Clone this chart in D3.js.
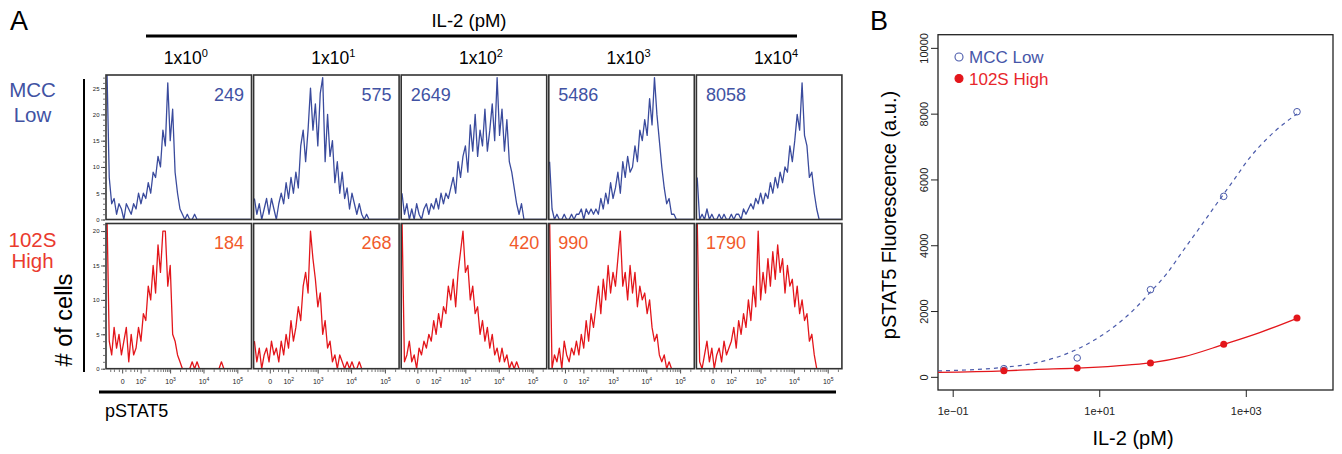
<!DOCTYPE html>
<html>
<head>
<meta charset="utf-8">
<script src="https://cdn.jsdelivr.net/npm/d3@7"></script>
<style>
  body { margin: 0; background: #fff; }
  svg { display: block; font-family: "Liberation Sans", Arial, Helvetica, sans-serif; }
</style>
</head>
<body>
<svg id="chart" width="1342" height="454"></svg>
<script>
// ---- data ----
const doseExp = [0, 1, 2, 3, 4];
const rowNames = [['MCC', 'Low'], ['102S', 'High']];
const il2pM = [0.5, 5, 50, 500, 5000];
const mfiMCC = [249, 575, 2649, 5486, 8058];
const mfi102S = [184, 268, 420, 990, 1790];

// histogram counts, 60 bins across the pSTAT5 channel range
const histMCC = [
  [30,8,3,4,1,3,2,0,3,2, 1,3,2,5,3,5,4,7,5,9, 8,12,10,17,14,26,15,21,9,5, 2,1,0,1,0,0,1,0,0,0, 0,0,0,0,0,0,0,0,0,0, 0,0,0,0,0,0,0,0,0,0],
  [4,1,3,0,2,4,1,4,2,0, 3,5,3,7,4,8,5,9,6,14, 17,11,17,25,17,22,14,24,27,11, 20,12,15,7,11,5,9,4,6,2, 5,3,1,3,1,0,1,0,0,0, 0,0,0,0,0,0,0,0,0,0],
  [5,1,3,0,2,0,3,1,0,2, 3,1,3,2,4,2,5,3,5,4, 6,8,5,11,8,12,14,9,18,13, 20,12,17,14,21,13,17,22,15,27, 16,21,13,19,11,9,6,3,1,3, 0,0,0,0,0,0,0,0,0,0],
  [11,2,0,1,0,0,1,0,0,1, 0,1,1,2,0,2,1,2,1,2, 1,4,2,5,3,7,4,6,9,5, 11,8,12,9,10,14,11,17,15,19, 16,23,18,27,20,15,10,6,3,4, 1,1,0,0,0,0,0,0,0,0],
  [8,0,1,0,2,0,1,0,0,1, 0,1,0,0,1,0,1,1,0,2, 1,2,3,2,4,3,5,3,5,4, 7,5,8,6,9,7,10,9,14,11, 15,20,17,26,16,14,8,9,5,2, 0,0,0,0,0,0,0,0,0,0]
];
const hist102S = [
  [24,4,2,6,3,5,2,4,6,1, 5,2,3,6,4,8,7,12,10,15, 11,18,14,20,20,12,15,5,4,2, 1,0,0,0,0,1,0,1,0,0, 0,0,0,0,0,0,0,1,0,0, 0,0,0,0,0,0,0,0,0,0],
  [4,1,3,0,2,3,1,4,2,3, 1,4,2,5,3,7,4,6,9,7, 12,14,11,20,16,13,9,11,5,7, 3,4,1,2,0,2,1,0,1,0, 1,0,0,1,0,0,0,0,0,0, 0,0,0,0,0,0,0,0,0,0],
  [22,1,2,4,1,2,0,3,2,4, 3,5,4,7,5,8,6,9,8,12, 10,13,9,14,17,20,14,15,10,12, 8,9,5,7,4,6,3,5,2,3, 1,3,1,2,0,1,0,1,0,0, 0,0,0,0,0,0,0,0,0,0],
  [22,0,2,1,3,0,4,2,1,3, 2,4,2,5,3,7,4,8,6,9, 12,8,13,10,15,11,14,12,16,20, 12,14,10,15,11,14,9,12,10,11, 8,10,6,4,5,2,1,2,0,1, 0,0,0,0,0,0,0,0,0,0],
  [22,1,0,2,4,1,3,0,2,3, 1,4,2,3,4,6,3,7,5,8, 6,10,7,12,9,20,10,14,11,16, 12,17,13,18,14,16,11,15,12,13, 9,12,8,10,7,8,4,5,2,0, 0,0,0,0,0,0,0,0,0,0]
];

// fitted dose-response curves
const fitMCCx = [0.063, 0.5, 1.26, 5, 10, 29, 50, 83, 140, 237, 398, 676, 1138, 1923, 3236, 5000];
const fitMCCy = [180, 290, 410, 840, 1210, 2020, 2580, 3130, 3840, 4545, 5254, 5960, 6667, 7224, 7679, 7990];
const fit102Sx = [0.063, 0.5, 1.26, 5, 17.3, 50, 140, 500, 1549, 5000];
const fit102Sy = [135, 180, 222, 265, 335, 425, 606, 985, 1345, 1780];

// ticks
const flowTicks = [0, 1e2, 1e3, 1e4, 1e5];
const flowTickExp = [null, 2, 3, 4, 5];
const topCountTicks = [0, 5, 10, 15, 20, 25];
const botCountTicks = [0, 5, 10, 15, 20];
const bYTicks = [0, 2000, 4000, 6000, 8000, 10000];
const bXTicks = [0.1, 10, 1000];
const bXTickLabels = ['1e\u221201', '1e+01', '1e+03'];

// ---- drawing ----
const svg = d3.select('#chart');
const blueLine = '#3a4b9d', redLine = '#e3161b';
const blueText = '#4152a3', redText = '#f15a2b', redLabel = '#ea3a2e';

const panelLeft = 106, panelStep = 147.6, panelW = 145.5;
const rows = [
  { y0: 75, y1: 219.5, max: 27.5, ticks: topCountTicks, hist: histMCC, mfi: mfiMCC,
    color: blueLine, textColor: blueText, anchors: ['end', 'end', 'start', 'start', 'start'] },
  { y0: 223.5, y1: 368.7, max: 21.1, ticks: botCountTicks, hist: hist102S, mfi: mfi102S,
    color: redLine, textColor: redText, anchors: ['end', 'end', 'end', 'start', 'start'] }
];

// panel letter A + header
svg.append('text').attr('x', 10).attr('y', 30).attr('font-size', 27).text('A');
svg.append('text').attr('x', 469).attr('y', 27).attr('font-size', 18.5)
  .attr('text-anchor', 'middle').text('IL-2 (pM)');
svg.append('line').attr('x1', 146).attr('x2', 797).attr('y1', 36).attr('y2', 36)
  .attr('stroke', '#000').attr('stroke-width', 3);

doseExp.forEach((e, c) => {
  const cx = panelLeft + c * panelStep + panelW / 2 + 7;
  const t = svg.append('text').attr('x', cx).attr('y', 64).attr('font-size', 17.5)
    .attr('text-anchor', 'middle');
  t.append('tspan').text('1x10');
  t.append('tspan').attr('font-size', 11).attr('dy', -7).text(e);
});

// row labels
rows.forEach((r, ri) => {
  const col = ri === 0 ? blueText : redLabel;
  const base = ri === 0 ? [97, 121.5] : [246.5, 268];
  rowNames[ri].forEach((s, k) => {
    svg.append('text').attr('x', 32.5).attr('y', base[k]).attr('font-size', 20.5)
      .attr('text-anchor', 'middle').attr('fill', col).text(s);
  });
});

svg.append('line').attr('x1', 84).attr('x2', 84).attr('y1', 79).attr('y2', 372)
  .attr('stroke', '#000').attr('stroke-width', 2);
svg.append('text').attr('transform', 'translate(72,320) rotate(-90)')
  .attr('font-size', 23.5).attr('text-anchor', 'middle').text('# of cells');

const defs = svg.append('defs');

rows.forEach((r, ri) => {
  const y = d3.scaleLinear().domain([0, r.max]).range([r.y1, r.y0]);

  // count axis on the first column
  const yMinor = d3.range(0, Math.floor(r.max) + 1);
  svg.append('g').attr('transform', `translate(${panelLeft - 1},0)`)
    .call(d3.axisLeft(y).tickValues(yMinor).tickSize(2).tickFormat(''))
    .call(g => g.select('.domain').remove())
    .call(g => g.selectAll('line').attr('stroke', '#222').attr('stroke-width', 0.6));
  svg.append('g').attr('transform', `translate(${panelLeft - 1},0)`)
    .call(d3.axisLeft(y).tickValues(r.ticks).tickSize(4).tickPadding(1.5))
    .call(g => g.select('.domain').remove())
    .call(g => g.selectAll('line').attr('stroke', '#222').attr('stroke-width', 0.7))
    .call(g => g.selectAll('text').attr('font-size', 6).attr('fill', '#222')
      .attr('font-family', '"Liberation Sans", Arial, sans-serif'));

  doseExp.forEach((e, c) => {
    const x0 = panelLeft + c * panelStep;
    const data = r.hist[c];
    const xb = d3.scaleLinear().domain([0, data.length - 1]).range([x0 + 0.8, x0 + panelW - 0.8]);
    const id = `clip-${ri}-${c}`;
    defs.append('clipPath').attr('id', id).append('rect')
      .attr('x', x0).attr('y', r.y0).attr('width', panelW).attr('height', r.y1 - r.y0);

    const line = d3.line().x((d, i) => xb(i)).y(d => y(d));
    svg.append('path').datum(data).attr('clip-path', `url(#${id})`)
      .attr('d', line).attr('fill', 'none').attr('stroke', r.color)
      .attr('stroke-width', 1.3).attr('stroke-linejoin', 'round');

    svg.append('rect').attr('x', x0).attr('y', r.y0).attr('width', panelW)
      .attr('height', r.y1 - r.y0).attr('fill', 'none')
      .attr('stroke', '#333').attr('stroke-width', 1.6);

    const anchor = r.anchors[c];
    svg.append('text')
      .attr('x', anchor === 'end' ? x0 + panelW - 7.5 : x0 + 9.5)
      .attr('y', r.y0 + 25.5).attr('font-size', 18).attr('fill', r.textColor)
      .attr('text-anchor', anchor).text(r.mfi[c]);

    if (ri === 1) {
      const xf = d3.scaleSymlog().constant(40).domain([-80, 262144]).range([x0, x0 + panelW]);
      const minor = [];
      [-50, -30, -10, 10, 30, 50, 70].forEach(v => minor.push(v));
      [2, 3, 4, 5, 6, 7, 8, 9].forEach(m => [1e2, 1e3, 1e4, 1e5].forEach(d => {
        if (m * d < 262144) minor.push(m * d);
      }));
      svg.append('g').attr('transform', `translate(0,${r.y1 + 0.8})`)
        .call(d3.axisBottom(xf).tickValues(minor).tickSize(2.5).tickFormat(''))
        .call(g => g.select('.domain').remove())
        .call(g => g.selectAll('line').attr('stroke', '#222').attr('stroke-width', 0.6));
      svg.append('g').attr('transform', `translate(0,${r.y1 + 0.8})`)
        .call(d3.axisBottom(xf).tickValues(flowTicks).tickSize(4).tickPadding(4).tickFormat(''))
        .call(g => g.select('.domain').remove())
        .call(g => g.selectAll('line').attr('stroke', '#222').attr('stroke-width', 0.8))
        .call(g => g.selectAll('.tick').each(function (d, i) {
          const t = d3.select(this).append('text').attr('y', 14).attr('fill', '#222')
            .attr('font-size', 7).attr('text-anchor', 'middle');
          if (flowTickExp[i] === null) { t.text('0'); return; }
          t.append('tspan').text('10');
          t.append('tspan').attr('font-size', 5).attr('dy', -3).text(flowTickExp[i]);
        }));
    }
  });
});

svg.append('line').attr('x1', 99).attr('x2', 836).attr('y1', 392).attr('y2', 392)
  .attr('stroke', '#000').attr('stroke-width', 3);
svg.append('text').attr('x', 105).attr('y', 417).attr('font-size', 18).text('pSTAT5');

// ---- panel B ----
const bx = d3.scaleLog().domain([0.063, 15500]).range([938, 1333]);
const by = d3.scaleLinear().domain([-400, 10400]).range([390, 34.7]);

svg.append('text').attr('x', 870).attr('y', 30).attr('font-size', 27).text('B');

svg.append('g').attr('transform', 'translate(938,0)')
  .call(d3.axisLeft(by).tickValues(bYTicks).tickSize(7).tickSizeOuter(0).tickFormat(d3.format('d')))
  .call(g => g.select('.domain').remove())
  .call(g => g.selectAll('line').attr('stroke', '#222'))
  .call(g => g.selectAll('text').attr('transform', 'rotate(-90)')
    .attr('x', 0).attr('y', -10).attr('dy', 0).attr('text-anchor', 'middle')
    .attr('font-size', 11).attr('fill', '#222')
    .attr('font-family', '"Liberation Sans", Arial, sans-serif'));

svg.append('g').attr('transform', 'translate(0,390)')
  .call(d3.axisBottom(bx).tickValues(bXTicks).tickSize(7).tickPadding(10)
    .tickFormat((d, i) => bXTickLabels[i]))
  .call(g => g.select('.domain').remove())
  .call(g => g.selectAll('line').attr('stroke', '#222'))
  .call(g => g.selectAll('text').attr('font-size', 11).attr('fill', '#222')
    .attr('font-family', '"Liberation Sans", Arial, sans-serif'));

svg.append('rect').attr('x', 938).attr('y', 34.7).attr('width', 395).attr('height', 355.3)
  .attr('fill', 'none').attr('stroke', '#222').attr('stroke-width', 1.3);

svg.append('text').attr('transform', 'translate(896,215) rotate(-90)')
  .attr('font-size', 20).attr('text-anchor', 'middle').text('pSTAT5 Fluorescence (a.u.)');
svg.append('text').attr('x', 1133).attr('y', 445).attr('font-size', 20)
  .attr('text-anchor', 'middle').text('IL-2 (pM)');

const fitLine = d3.line().x(d => bx(d[0])).y(d => by(d[1])).curve(d3.curveMonotoneX);
svg.append('path').datum(d3.zip(fitMCCx, fitMCCy)).attr('d', fitLine)
  .attr('fill', 'none').attr('stroke', '#4b5bab').attr('stroke-width', 1.2)
  .attr('stroke-dasharray', '4,4');
svg.append('path').datum(d3.zip(fit102Sx, fit102Sy)).attr('d', fitLine)
  .attr('fill', 'none').attr('stroke', redLine).attr('stroke-width', 1.3);

svg.selectAll('.pMCC').data(d3.zip(il2pM, mfiMCC)).join('circle')
  .attr('class', 'pMCC').attr('cx', d => bx(d[0])).attr('cy', d => by(d[1])).attr('r', 3.3)
  .attr('fill', 'none').attr('stroke', '#4b5bab').attr('stroke-width', 1);
svg.selectAll('.p102').data(d3.zip(il2pM, mfi102S)).join('circle')
  .attr('class', 'p102').attr('cx', d => bx(d[0])).attr('cy', d => by(d[1])).attr('r', 3.5)
  .attr('fill', redLine);

// legend
const legend = [['MCC Low', '#4656a8', false], ['102S High', '#e8262b', true]];
legend.forEach((l, i) => {
  const ly = 57 + i * 21.5;
  svg.append('circle').attr('cx', 959).attr('cy', ly).attr('r', 4)
    .attr('fill', l[2] ? redLine : 'none').attr('stroke', l[2] ? redLine : '#4b5bab')
    .attr('stroke-width', 1.1);
  svg.append('text').attr('x', 969).attr('y', ly + 6.3).attr('font-size', 17)
    .attr('fill', l[1]).text(l[0]);
});
</script>
</body>
</html>
